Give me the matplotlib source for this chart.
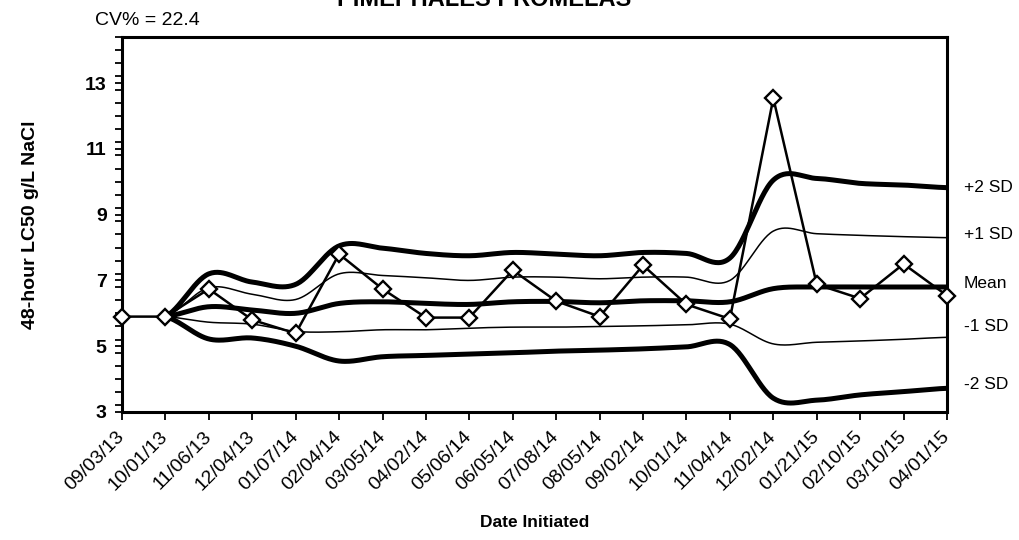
import numpy as np
import matplotlib
matplotlib.use("Agg")
import matplotlib.pyplot as plt
import matplotlib.transforms as mtransforms
from matplotlib.ticker import MultipleLocator

dates = ["09/03/13", "10/01/13", "11/06/13", "12/04/13", "01/07/14", "02/04/14",
         "03/05/14", "04/02/14", "05/06/14", "06/05/14", "07/08/14", "08/05/14",
         "09/02/14", "10/01/14", "11/04/14", "12/02/14", "01/21/15", "02/10/15",
         "03/10/15", "04/01/15"]
lc50 = [5.9, 5.9, 6.74, 5.8, 5.39, 7.8, 6.74, 5.87, 5.87, 7.31, 6.37, 5.9,
        7.46, 6.27, 5.83, 12.54, 6.88, 6.45, 7.5, 6.54]
mean = [np.nan, 5.9, 6.2, 6.1, 6.0, 6.3, 6.35, 6.3, 6.27, 6.35, 6.36, 6.32,
        6.38, 6.38, 6.35, 6.75, 6.8, 6.8, 6.8, 6.8]
plus1 = [np.nan, 5.9, 6.78, 6.58, 6.42, 7.2, 7.15, 7.08, 7.0, 7.1, 7.1, 7.05,
         7.1, 7.1, 7.0, 8.5, 8.42, 8.37, 8.33, 8.3]
plus2 = [np.nan, 5.9, 7.2, 6.95, 6.88, 8.05, 7.98, 7.82, 7.75, 7.85, 7.8, 7.75,
         7.85, 7.82, 7.68, 10.05, 10.1, 9.95, 9.9, 9.82]
minus1 = [np.nan, 5.9, 5.73, 5.67, 5.45, 5.44, 5.5, 5.5, 5.55, 5.58, 5.58, 5.6,
          5.62, 5.65, 5.67, 5.07, 5.12, 5.16, 5.21, 5.27]
minus2 = [np.nan, 5.9, 5.22, 5.25, 5.0, 4.55, 4.68, 4.72, 4.76, 4.8, 4.85, 4.88,
          4.92, 4.98, 5.05, 3.42, 3.36, 3.52, 3.62, 3.72]
cv_text = "CV% = 22.4"
title = "PIMEPHALES PROMELAS"
line_labels = ["+2 SD", "+1 SD", "Mean", "-1 SD", "-2 SD"]
label_y = [9.82, 8.4, 6.92, 5.6, 3.85]

plt.rcParams['font.family'] = ['Liberation Sans', 'DejaVu Sans']

fig = plt.figure(figsize=(10.2, 5.4), dpi=100)
ax = fig.add_axes([122/1020, 1-412/540, (947-122)/1020, (412-37)/540])

x = np.arange(len(dates))


def smooth(xs, ys, n=30):
    xs = np.asarray(xs, float)
    ys = np.asarray(ys, float)
    m = ~np.isnan(ys)
    xs, ys = xs[m], ys[m]
    px = np.concatenate([[2*xs[0]-xs[1]], xs, [2*xs[-1]-xs[-2]]])
    py = np.concatenate([[ys[0]], ys, [ys[-1]]])
    ox, oy = [], []
    for i in range(1, len(px)-2):
        t = np.linspace(0, 1, n, endpoint=False)
        p0, p1, p2, p3 = py[i-1], py[i], py[i+1], py[i+2]
        m1 = (p2 - p0) / 2
        m2 = (p3 - p1) / 2
        h00 = 2*t**3 - 3*t**2 + 1
        h10 = t**3 - 2*t**2 + t
        h01 = -2*t**3 + 3*t**2
        h11 = t**3 - t**2
        oy.append(h00*p1 + h10*m1 + h01*p2 + h11*m2)
        ox.append(px[i] + t*(px[i+1]-px[i]))
    ox.append([xs[-1]])
    oy.append([ys[-1]])
    return np.concatenate(ox), np.concatenate(oy)


for series, lw in [(plus2, 3.6), (plus1, 1.1), (mean, 3.6), (minus1, 1.1), (minus2, 3.6)]:
    sx, sy = smooth(x, series)
    ax.plot(sx, sy, color='black', lw=lw, solid_capstyle='round', zorder=2)

ax.plot(x, lc50, color='black', lw=1.8, marker='D', markersize=8.5,
        markerfacecolor='white', markeredgecolor='black', markeredgewidth=1.7,
        zorder=4, clip_on=False)

ax.set_xlim(0, len(dates)-1)
ax.set_ylim(3, 14.4)
ax.set_xticks(x)
ax.set_xticklabels(dates, rotation=45, ha='right', va='center',
                   rotation_mode='anchor', fontsize=14)
shift = mtransforms.ScaledTranslation(-5/100, 0, fig.dpi_scale_trans)
for lab in ax.get_xticklabels():
    lab.set_transform(lab.get_transform() + shift)
ax.set_yticks([3, 5, 7, 9, 11, 13])
ax.yaxis.set_minor_locator(MultipleLocator(0.4))
ax.tick_params(axis='y', which='both', direction='out', length=5, width=1.3,
               labelsize=14, pad=6)
ax.tick_params(axis='x', direction='out', length=6, width=1.3, pad=10)
for lab in ax.get_yticklabels():
    lab.set_fontweight('bold')

for s in ['left', 'bottom', 'top', 'right']:
    ax.spines[s].set_linewidth(2.2)

ax.set_ylabel("48-hour LC50 g/L NaCl", fontsize=14, fontweight='bold')
ax.yaxis.set_label_coords(-0.1, 0.5)
ax.set_xlabel("Date Initiated", fontsize=12.5, fontweight='bold')
ax.xaxis.set_label_coords(0.5, -0.275)

for lab, yv in zip(line_labels, label_y):
    ax.annotate(lab, xy=(1.0, yv), xycoords=('axes fraction', 'data'),
                xytext=(12, 0), textcoords='offset points', va='center', ha='left',
                fontsize=12.5)

fig.text(484/1020, 1 - 6/540, title, ha='center', va='baseline', fontsize=17, fontweight='bold')
ax.text(-0.033, 1.032, cv_text, transform=ax.transAxes, ha='left', va='baseline', fontsize=14)

fig.savefig("out.png", dpi=100)
